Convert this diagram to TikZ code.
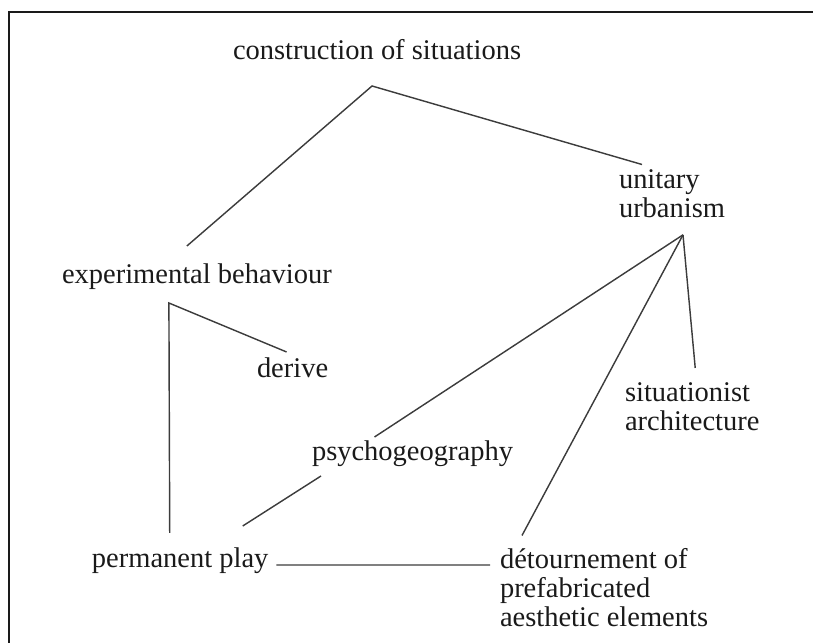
\documentclass[tikz,border=0pt]{standalone}
\usepackage{fontspec}
\setmainfont{Liberation Serif}
\usetikzlibrary{calc}
\definecolor{ink}{HTML}{1A1A1A}
\definecolor{wire}{HTML}{3C3C3C}
\begin{document}
\begin{tikzpicture}[x=0.0148cm,y=-0.0148cm,
  lbl/.style={inner sep=0pt,outer sep=0pt,text=ink,font=\fontsize{12}{12.3}\selectfont},
  stack/.style={lbl,align=left,anchor=north west},
  link/.style={draw=wire,line width=0.6pt}]
  \useasboundingbox (0,0) rectangle (813,643);
  \draw[ink,line width=1.1pt] (820,12) -| (9,650);
  \node[lbl,anchor=base west] (cs) at (233,60) {construction of situations};
  \node[lbl,anchor=base west] (eb) at (62,284) {experimental behaviour};
  \node[lbl,anchor=base west] (dr) at (257,378) {derive};
  \node[lbl,anchor=base west] (pg) at (312,461) {psychogeography};
  \node[lbl,anchor=base west] (pp) at (92,568) {permanent play};
  \node[stack] (uu) at (619,169.5) {unitary\\urbanism};
  \node[stack] (sa) at (625,382.5) {situationist\\architecture};
  \node[stack] (dt) at (500,548.5) {détournement of\\prefabricated\\aesthetic elements};
  \coordinate (cs-top) at ([shift={(-5,26)}]cs.base);
  \coordinate (eb-top) at ([shift={(-28,19)}]eb.base);
  \coordinate (uu-hub) at ([shift={(64,17)}]uu.south west);
  \draw[link] ([shift={(-10,-38)}]eb.base) -- (cs-top) -- ([shift={(23,-5)}]uu.north west);
  \draw[link] ([shift={(-6,-26)}]dr.base) -- (eb-top) -- ([shift={(-10.5,-35)}]pp.base);
  \draw[link] ([shift={(-38,-24)}]pg.base) -- (uu-hub);
  \draw[link] ([shift={(22,-13)}]dt.north west) -- (uu-hub);
  \draw[link] ([shift={(3,-14.5)}]sa.north) -- (uu-hub);
  \draw[link] ([shift={(-91.5,15)}]pg.base) -- ([shift={(62.5,-42)}]pp.base);
  \draw[link] ([shift={(8,-3)}]pp.base east) -- ([shift={(-10,16.5)}]dt.north west);
\end{tikzpicture}
\end{document}
